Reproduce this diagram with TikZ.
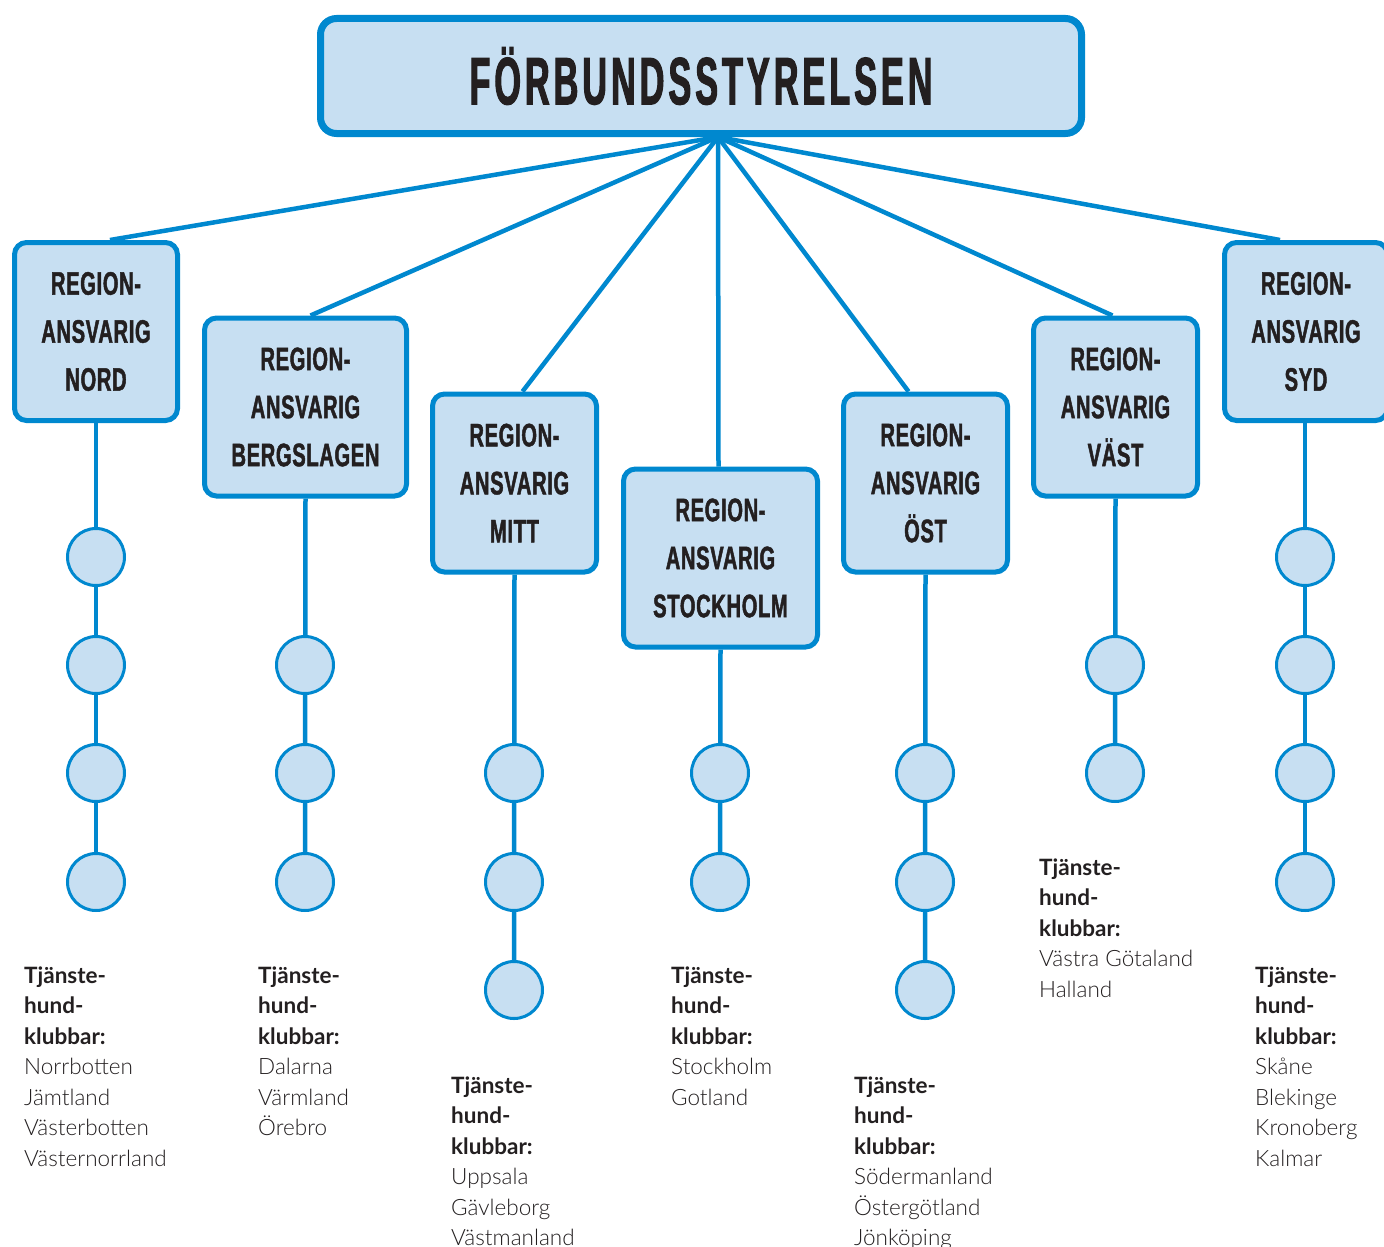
\documentclass[tikz,border=0pt]{standalone}
\usepackage{fontspec}
\usetikzlibrary{backgrounds}
\setmainfont{Lato}
\newfontfamily\lightfont{Lato Light}
\newfontfamily\condfont[FakeStretch=0.62,FakeBold=1.4,LetterSpace=2]{Liberation Sans}
\newfontfamily\titlefont[FakeStretch=0.51,FakeBold=1.6,LetterSpace=6]{Liberation Sans}
\definecolor{rblue}{HTML}{0088CF}
\definecolor{rfill}{HTML}{C7DFF2}
\definecolor{rtext}{HTML}{231F20}
\newcommand\hd[1]{{\rmfamily\bfseries #1}}
\begin{document}
\begin{tikzpicture}[x=1pt,y=-1pt,
  titlebox/.style={draw=rblue, fill=rfill, line width=7pt, rounded corners=16pt,
    minimum width=761pt, minimum height=115pt, inner sep=0pt,
    font=\titlefont\bfseries\fontsize{67}{67}\selectfont, text=rtext},
  regbox/.style={draw=rblue, fill=rfill, line width=5pt, rounded corners=12pt,
    minimum height=178pt, inner sep=0pt, align=center,
    font=\condfont\bfseries\fontsize{32.5}{48}\selectfont, text=rtext},
  club/.style={draw=rblue, fill=rfill, line width=3pt, circle, minimum size=57pt, inner sep=0pt},
  link/.style={draw=rblue, line width=4.5pt},
  clubs/.style={align=left, anchor=base west, inner sep=0pt,
    font=\lightfont\fontsize{22.5}{30.5}\selectfont, text=rtext}]
\useasboundingbox (0,0) rectangle (1384,1247);

\node[titlebox] (top) at (701,76) {FÖRBUNDSSTYRELSEN};
\coordinate (hub) at (718,137);

\node[regbox, minimum width=163pt] (nord) at (96,331.5) {REGION-\\ANSVARIG\\NORD};
\node[regbox, minimum width=202pt] (berg) at (305.5,407) {REGION-\\ANSVARIG\\BERGSLAGEN};
\node[regbox, minimum width=164pt] (mitt) at (514.5,483) {REGION-\\ANSVARIG\\MITT};
\node[regbox, minimum width=194pt] (sthlm) at (720.5,558) {REGION-\\ANSVARIG\\STOCKHOLM};
\node[regbox, minimum width=164pt] (ost) at (925.5,483) {REGION-\\ANSVARIG\\ÖST};
\node[regbox, minimum width=164pt] (vast) at (1115.5,407) {REGION-\\ANSVARIG\\VÄST};
\node[regbox, minimum width=163pt] (syd) at (1306,331.5) {REGION-\\ANSVARIG\\SYD};

% circles
\foreach \i/\y in {1/557,2/665,3/773,4/882} \node[club] (n\i) at (96,\y) {};
\foreach \i/\y in {1/665,2/773,3/882} \node[club] (b\i) at (305,\y) {};
\foreach \i/\y in {1/773,2/882,3/990} \node[club] (m\i) at (514,\y) {};
\foreach \i/\y in {1/773,2/882} \node[club] (s\i) at (720,\y) {};
\foreach \i/\y in {1/773,2/882,3/990} \node[club] (o\i) at (925,\y) {};
\foreach \i/\y in {1/665,2/773} \node[club] (v\i) at (1115,\y) {};
\foreach \i/\y in {1/557,2/665,3/773,4/882} \node[club] (y\i) at (1305,\y) {};

\begin{scope}[on background layer]
\fill[white] (0,0) rectangle (1384,1247);
\draw[link] (hub) -- ([xshift=14pt]nord.north);
\draw[link] (hub) -- ([xshift=5pt]berg.north);
\draw[link] (hub) -- ([xshift=8pt]mitt.north);
\draw[link] (hub) -- ([xshift=-2pt]sthlm.north);
\draw[link] (hub) -- ([xshift=-17pt]ost.north);
\draw[link] (hub) -- ([xshift=-3pt]vast.north);
\draw[link] (hub) -- ([xshift=-26pt]syd.north);
\draw[link] (nord.south) -- (n4.center);
\draw[link] (berg.south) -- (b3.center);
\draw[link] (mitt.south) -- (m3.center);
\draw[link] (sthlm.south) -- (s2.center);
\draw[link] (ost.south) -- (o3.center);
\draw[link] (vast.south) -- (v2.center);
\draw[link] ([xshift=-1pt]syd.south) -- (y4.center);
\end{scope}

% anchor = baseline of the last line
\node[clubs] (tn) at (24,1166) {\hd{Tjänste-}\\\hd{hund-}\\\hd{klubbar:}\\Norrbotten\\Jämtland\\Västerbotten\\Västernorrland};
\node[clubs] (tb) at (258,1135.5) {\hd{Tjänste-}\\\hd{hund-}\\\hd{klubbar:}\\Dalarna\\Värmland\\Örebro};
\node[clubs] (tm) at (451,1245.5) {\hd{Tjänste-}\\\hd{hund-}\\\hd{klubbar:}\\Uppsala\\Gävleborg\\Västmanland};
\node[clubs] (ts) at (671,1105) {\hd{Tjänste-}\\\hd{hund-}\\\hd{klubbar:}\\Stockholm\\Gotland};
\node[clubs] (to) at (854,1245.5) {\hd{Tjänste-}\\\hd{hund-}\\\hd{klubbar:}\\Södermanland\\Östergötland\\Jönköping};
\node[clubs] (tv) at (1039,997) {\hd{Tjänste-}\\\hd{hund-}\\\hd{klubbar:}\\Västra Götaland\\Halland};
\node[clubs] (ty) at (1255,1166) {\hd{Tjänste-}\\\hd{hund-}\\\hd{klubbar:}\\Skåne\\Blekinge\\Kronoberg\\Kalmar};
\end{tikzpicture}
\end{document}
